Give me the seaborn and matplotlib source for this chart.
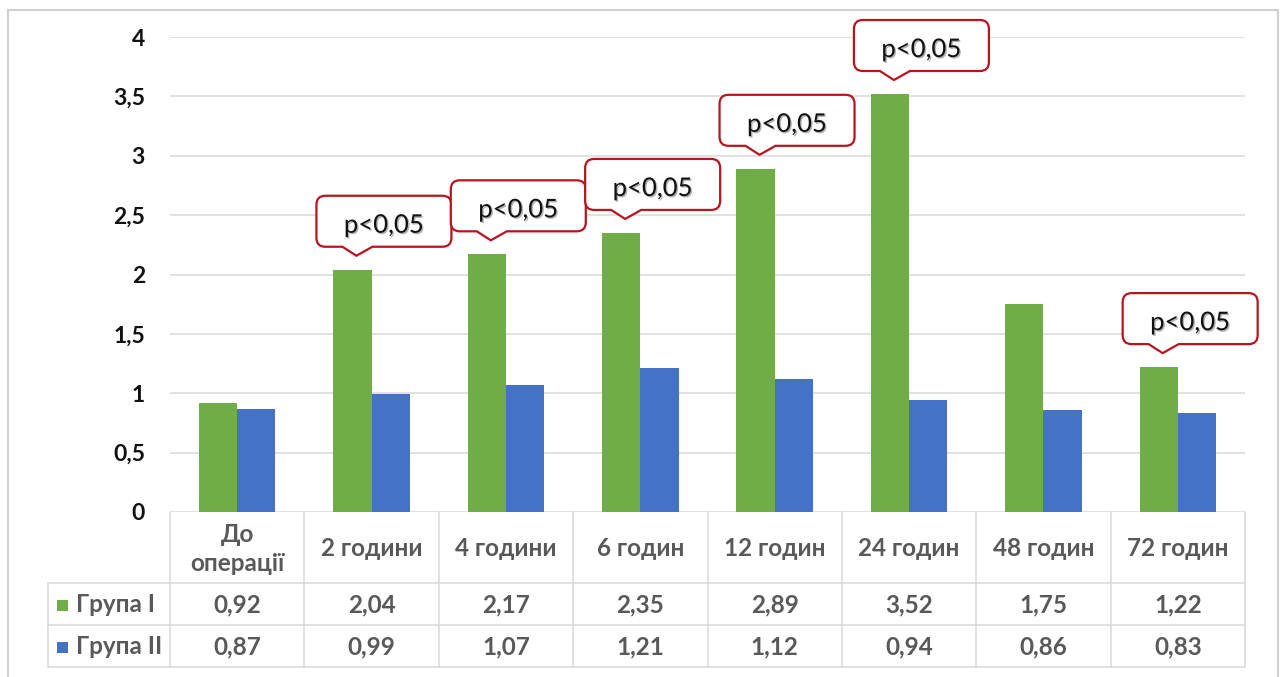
import matplotlib
matplotlib.use("Agg")
import matplotlib.pyplot as plt
import matplotlib.transforms as mtransforms
from matplotlib.path import Path
from matplotlib.patches import PathPatch, Rectangle
from matplotlib.lines import Line2D
import matplotlib.patheffects as pe
import numpy as np
import pandas as pd
import seaborn as sns

# ---- data -------------------------------------------------------------
periods = ["До\nоперації", "2 години", "4 години", "6 годин",
           "12 годин", "24 годин", "48 годин", "72 годин"]
group_names = ["Група I", "Група II"]
group1 = [0.92, 2.04, 2.17, 2.35, 2.89, 3.52, 1.75, 1.22]
group2 = [0.87, 0.99, 1.07, 1.21, 1.12, 0.94, 0.86, 0.83]
significance = ["", "p<0,05", "p<0,05", "p<0,05", "p<0,05", "p<0,05", "", "p<0,05"]
y_ticks = [0, 0.5, 1, 1.5, 2, 2.5, 3, 3.5, 4]

GREEN = "#70AD47"
BLUE = "#4472C4"
GRID = "#D9D9D9"
TABLE_TEXT = "#595959"
CALLOUT_EDGE = "#B8141E"

df = pd.DataFrame({
    "period": periods * 2,
    "group": [group_names[0]] * len(periods) + [group_names[1]] * len(periods),
    "value": group1 + group2,
})

# ---- figure -----------------------------------------------------------
sns.set_theme(style="white")
plt.rcParams["font.family"] = ["Lato", "DejaVu Sans"]

W, H = 1283, 677
fig = plt.figure(figsize=(W / 100, H / 100), dpi=100)
fig.patch.set_facecolor("white")


def fy(py):
    """pixel row (from top) -> figure fraction"""
    return (H - py) / H


def fx(px):
    return px / W


left_px, right_px, top_px, zero_px = 170, 1245, 37, 512
ax = fig.add_axes([fx(left_px), fy(zero_px),
                   fx(right_px - left_px), (zero_px - top_px) / H])

sns.barplot(data=df, x="period", y="value", hue="group", order=periods,
            hue_order=group_names, palette=[GREEN, BLUE], width=0.57,
            gap=0, saturation=1, legend=False, ax=ax, linewidth=0)

ax.set_xlim(-0.5, len(periods) - 0.5)
ax.set_ylim(0, 4)
ax.set_yticks(y_ticks)
ax.set_yticklabels([f"{t:g}".replace(".", ",") for t in y_ticks],
                   fontsize=16.5, fontweight="bold", color="#111111")
ax.tick_params(axis="y", length=0, pad=18)
ax.set_xticks([])
ax.set_xlabel("")
ax.set_ylabel("")
for s in ax.spines.values():
    s.set_visible(False)
ax.yaxis.grid(True, color=GRID, linewidth=1.1)
ax.set_axisbelow(True)

# ---- data table beneath the axis -------------------------------------
blend = mtransforms.blended_transform_factory(ax.transData, fig.transFigure)
row_lines = [583, 625, 667]
table_left = 48
for py in row_lines:
    fig.add_artist(Line2D([fx(table_left), fx(right_px)], [fy(py), fy(py)],
                          transform=fig.transFigure, color=GRID, lw=1.1))
for b in np.arange(-0.5, len(periods), 1.0):
    fig.add_artist(Line2D([b, b], [fy(zero_px), fy(667)], transform=blend,
                          color=GRID, lw=1.1))
fig.add_artist(Line2D([fx(table_left)] * 2, [fy(583), fy(667)],
                      transform=fig.transFigure, color=GRID, lw=1.1))

text_kw = dict(fontsize=17.5, fontweight="bold", color=TABLE_TEXT,
               ha="center", va="center")
for i, lab in enumerate(periods):
    fig.text(i, fy(549), lab, transform=blend, linespacing=1.3, **text_kw)
    fig.text(i, fy(605), f"{group1[i]:.2f}".replace(".", ","),
             transform=blend, **text_kw)
    fig.text(i, fy(647), f"{group2[i]:.2f}".replace(".", ","),
             transform=blend, **text_kw)

for name, color, py in [(group_names[0], GREEN, 605), (group_names[1], BLUE, 647)]:
    fig.add_artist(Rectangle((fx(57), fy(py + 5.5)), fx(11), 11 / H,
                             transform=fig.transFigure, facecolor=color,
                             edgecolor="none"))
    fig.text(fx(76), fy(py), name, ha="left", va="center", fontsize=17.5,
             fontweight="bold", color=TABLE_TEXT)

# ---- significance callouts above Group I bars ------------------------
def callout_path(tx, ty, box_w=135, box_h=51, tip_dx=40, depth=9,
                 base_l=14, base_r=16, r=9):
    """Rounded box with a pointer whose tip sits at (tx, ty) in pixels."""
    x0 = tx - tip_dx
    x1 = x0 + box_w
    y0 = ty + depth          # box bottom (display coords, y up)
    y1 = y0 + box_h
    verts = [
        (tx - base_l, y0), (tx, ty), (tx + base_r, y0),
        (x1 - r, y0), (x1, y0), (x1, y0 + r),
        (x1, y1 - r), (x1, y1), (x1 - r, y1),
        (x0 + r, y1), (x0, y1), (x0, y1 - r),
        (x0, y0 + r), (x0, y0), (x0 + r, y0),
        (tx - base_l, y0),
    ]
    codes = [Path.MOVETO, Path.LINETO, Path.LINETO,
             Path.LINETO, Path.CURVE3, Path.CURVE3,
             Path.LINETO, Path.CURVE3, Path.CURVE3,
             Path.LINETO, Path.CURVE3, Path.CURVE3,
             Path.LINETO, Path.CURVE3, Path.CURVE3,
             Path.CLOSEPOLY]
    return Path(verts, codes), ((x0 + x1) / 2, (y0 + y1) / 2)


green_bars = ax.containers[0]
for bar, label in zip(green_bars, significance):
    if not label:
        continue
    cx = bar.get_x() + bar.get_width() / 2
    top = bar.get_height()
    px, py = ax.transData.transform((cx, top))
    path, (mx, my) = callout_path(px + 4, py + 14)
    patch = PathPatch(path, facecolor="white", edgecolor=CALLOUT_EDGE,
                      lw=1.6, transform=mtransforms.IdentityTransform(),
                      zorder=5, clip_on=False)
    fig.add_artist(patch)
    t = fig.text(mx / W, (my - 4) / H, label, ha="center", va="center",
                 fontsize=18.5, color="#111111", zorder=6)
    t.set_path_effects([pe.withSimplePatchShadow(offset=(1, -1),
                                                 shadow_rgbFace="#000000",
                                                 alpha=0.3)])

# ---- outer chart border ---------------------------------------------
fig.add_artist(Rectangle((fx(8), fy(680)), fx(1278 - 8), (680 - 10) / H,
                         transform=fig.transFigure, facecolor="none",
                         edgecolor="#D0D0D0", lw=1.5, clip_on=False))

fig.savefig("out.png", dpi=100)
